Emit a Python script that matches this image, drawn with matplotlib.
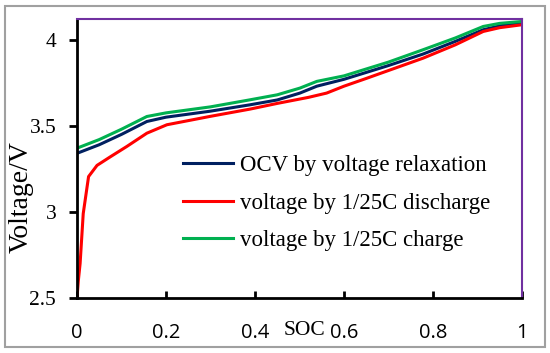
import matplotlib.pyplot as plt
from matplotlib.patches import Rectangle

# ------------- Data -------------------------------------
soc_ocv = [0.0, 0.05, 0.1, 0.157, 0.2, 0.3, 0.389, 0.45, 0.501, 0.539, 0.6, 0.7, 0.778,
           0.85, 0.913, 0.95, 1.0]
v_ocv = [3.34, 3.39, 3.45, 3.525, 3.55, 3.585, 3.622, 3.65, 3.69, 3.73, 3.77, 3.85, 3.917,
         3.99, 4.058, 4.08, 4.10]

soc_dis = [0.0, 0.003, 0.007, 0.014, 0.026, 0.045, 0.075, 0.112, 0.157, 0.202, 0.3, 0.389,
           0.45, 0.52, 0.561, 0.6, 0.65, 0.778, 0.85, 0.913, 0.95, 1.0]
v_dis = [2.5, 2.6, 2.7, 2.99, 3.205, 3.27, 3.32, 3.38, 3.457, 3.506, 3.555, 3.597,
         3.63, 3.665, 3.69, 3.73, 3.775, 3.893, 3.97, 4.048, 4.07, 4.087]

soc_chg = [0.0, 0.05, 0.1, 0.157, 0.2, 0.3, 0.389, 0.45, 0.501, 0.539, 0.6, 0.7, 0.778,
           0.85, 0.913, 0.95, 1.0]
v_chg = [3.37, 3.42, 3.48, 3.554, 3.575, 3.61, 3.651, 3.68, 3.719, 3.758, 3.79, 3.87, 3.942,
         4.01, 4.077, 4.095, 4.106]

labels = ["OCV by voltage relaxation", "voltage by 1/25C discharge", "voltage by 1/25C charge"]
xticks = [0, 0.2, 0.4, 0.6, 0.8, 1]
xtick_labels = ["0", "0.2", "0.4", "0.6", "0.8", "1"]
yticks = [2.5, 3, 3.5, 4]
ytick_labels = ["2.5", "3", "3.5", "4"]

serif = "Liberation Serif"
sans = "Open Sans"

fig = plt.figure(figsize=(5.5, 3.53), dpi=100)
fig.patches.append(Rectangle((5 / 550, 6 / 353), 540 / 550, 341 / 353, transform=fig.transFigure,
                             fill=False, edgecolor="#a0a0a0", linewidth=1.5))
ax = fig.add_axes([0.14, 0.156, 0.809, 0.79])

ax.plot(soc_ocv, v_ocv, color="#002060", lw=2.2, label=labels[0])
ax.plot(soc_dis, v_dis, color="#ff0000", lw=2.2, label=labels[1])
ax.plot(soc_chg, v_chg, color="#00b050", lw=2.2, label=labels[2])

ax.set_xlim(0, 1)
ax.set_ylim(2.5, 4.12)

for s in ["left", "bottom"]:
    ax.spines[s].set_linewidth(2)
    ax.spines[s].set_color("black")
for s in ["top", "right"]:
    ax.spines[s].set_linewidth(1.5)
    ax.spines[s].set_color("#7030a0")

ax.set_xticks(xticks)
ax.set_xticklabels(xtick_labels, fontfamily=sans, fontsize=14.5)
ax.set_yticks(yticks)
ax.set_yticklabels(ytick_labels, fontfamily=serif, fontsize=15.5)
ax.tick_params(axis="x", direction="in", length=5, width=2, pad=18)
ax.tick_params(axis="y", direction="out", length=6, width=2, pad=9)

ax.text(0.512, -0.082, "SOC", transform=ax.transAxes, ha="center", va="top",
        fontfamily=serif, fontsize=15.5)
ax.set_ylabel("Voltage/V", fontfamily=serif, fontsize=20)
ax.yaxis.set_label_coords(-0.098, 0.362)

ax.legend(loc="center left", bbox_to_anchor=(0.238, 0.34), frameon=False,
          prop={"family": serif, "size": 16.5}, handlelength=2.2, labelspacing=0.72,
          handletextpad=0.3, borderpad=0, borderaxespad=0)

fig.savefig("out.png", dpi=100)
